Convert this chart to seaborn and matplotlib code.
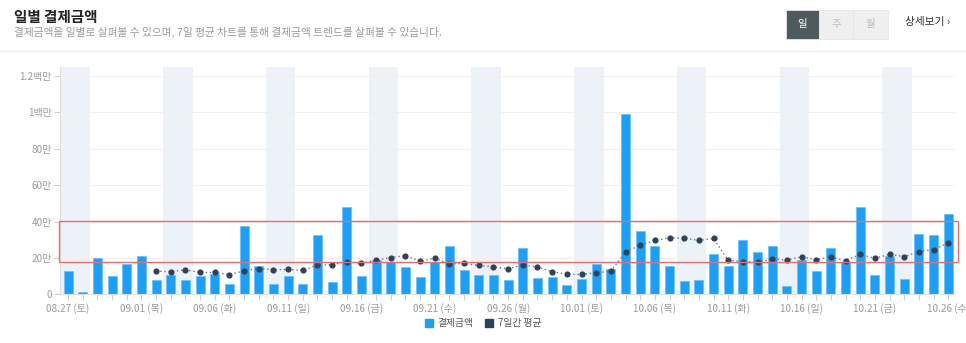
import matplotlib
matplotlib.use("Agg")
import matplotlib.pyplot as plt
from matplotlib.patches import Rectangle
from matplotlib.lines import Line2D
import seaborn as sns
import pandas as pd
import numpy as np

sns.set_theme(style="white")
plt.rcParams['font.family'] = ['Noto Sans CJK KR', 'DejaVu Sans']

# ---- data (values in 만원) ----
dates = pd.date_range("2022-08-27", periods=61)
amounts = [12.6, 1.1, 20.0, 10.2, 16.7, 21.1, 8.1, 10.6, 7.8, 10.0,
           11.1, 5.9, 37.4, 15.7, 5.6, 10.2, 5.6, 32.4, 7.0, 48.1,
           10.2, 18.7, 17.8, 15.2, 9.6, 17.8, 26.5, 13.5, 10.4, 10.7,
           8.1, 25.2, 8.9, 9.3, 5.0, 8.5, 16.9, 14.1, 98.9, 35.0,
           26.5, 15.6, 7.4, 7.8, 22.4, 15.6, 29.8, 23.5, 26.5, 4.6,
           18.7, 13.0, 25.2, 18.0, 47.8, 10.4, 21.1, 8.5, 33.1, 32.4,
           43.9]
avg7 = [None] * 6 + [12.8, 12.4, 13.5, 12.0, 12.0, 10.7, 13.0, 14.1, 13.5, 13.7,
                     13.1, 16.1, 16.3, 18.0, 17.0, 18.9, 20.2, 21.3, 18.1, 19.8,
                     16.7, 17.0, 15.9, 15.0, 14.1, 16.1, 15.0, 12.4, 11.1, 10.9,
                     11.9, 12.6, 23.3, 27.0, 29.6, 31.1, 30.9, 29.6, 30.7, 18.7,
                     18.0, 17.6, 19.3, 18.9, 20.6, 19.1, 20.4, 18.5, 22.0, 19.8,
                     22.0, 20.7, 23.5, 24.6, 28.1]
tick_labels = ["08.27 (토)", "09.01 (목)", "09.06 (화)", "09.11 (일)", "09.16 (금)",
               "09.21 (수)", "09.26 (월)", "10.01 (토)", "10.06 (목)", "10.11 (화)",
               "10.16 (일)", "10.21 (금)", "10.26 (수)"]
y_ticks = [0, 20, 40, 60, 80, 100, 120]
y_tick_labels = ["0", "20만", "40만", "60만", "80만", "1백만", "1.2백만"]
highlight_range = (18.0, 40.4)

series_names = ["결제금액", "7일간 평균"]
bar_color = "#1aa0f8"
avg_color = "#2e4358"

df = pd.DataFrame({"day": [d.strftime("%m.%d") for d in dates],
                   "amount": amounts,
                   "avg": pd.array(avg7, dtype="Float64")})
df["idx"] = np.arange(len(df))

W, H = 966, 343
fig = plt.figure(figsize=(W / 100, H / 100), dpi=100)
fig.patch.set_facecolor("white")
ax = fig.add_axes([60 / W, 1 - 294.3 / H, (955 - 60) / W, (294.3 - 67) / H])

# weekend shading
for i, d in enumerate(dates):
    if d.weekday() == 5:
        ax.axvspan(i - 0.5, i + 1.5, color="#edf2f8", zorder=0, lw=0)

sns.barplot(data=df, x="idx", y="amount", ax=ax, color=bar_color, width=0.62,
            saturation=1, edgecolor="#6cc3fb", linewidth=0.6, zorder=2)

sub = df.dropna(subset=["avg"])
sns.lineplot(x=sub["idx"].to_numpy(), y=sub["avg"].astype(float).to_numpy(), ax=ax,
             color="#62748a", linestyle=(0, (1, 2)), linewidth=1.0, zorder=3)
ax.scatter(sub["idx"], sub["avg"].astype(float), s=20, color=avg_color, zorder=4,
           linewidths=0)

ax.set_xlim(-0.55, 60.46)
ax.set_ylim(0, 125)
ax.set_yticks(y_ticks)
ax.set_yticklabels(y_tick_labels)
tick_pos = list(range(0, 61, 5))
ax.set_xticks(tick_pos)
ax.set_xticklabels(tick_labels)
ax.set_xticks(range(61), minor=True)
ax.tick_params(axis="x", which="both", length=4, color="#d0d0d0", width=0.8,
               labelsize=7.2, labelcolor="#9a9a9a", pad=2, bottom=True)
ax.tick_params(axis="y", length=4, color="#d0d0d0", width=0.8, labelsize=7.2,
               labelcolor="#9a9a9a", pad=2, left=True)
ax.set_xlabel("")
ax.set_ylabel("")
ax.grid(axis="y", color="#f0f0f0", linewidth=0.8, zorder=0)
ax.set_axisbelow(True)
for s in ["top", "right"]:
    ax.spines[s].set_visible(False)
ax.spines["left"].set_color("#e0e0e0")
ax.spines["bottom"].set_color("#e0e0e0")
ax.spines["left"].set_linewidth(0.8)
ax.spines["bottom"].set_linewidth(0.8)

# highlight rectangle
ax.add_patch(Rectangle((-0.59, highlight_range[0]), 61.26, highlight_range[1] - highlight_range[0],
                       fill=False, edgecolor="#f06a6a", linewidth=1.0, zorder=5, clip_on=False))

# header
fig.text(14 / W, 1 - 17 / H, "일별 결제금액", fontsize=10.5, fontweight="bold",
         color="#222222", va="center", ha="left")
fig.text(14 / W, 1 - 32.5 / H, "결제금액을 일별로 살펴볼 수 있으며, 7일 평균 차트를 통해 결제금액 트렌드를 살펴볼 수 있습니다.",
         fontsize=7.7, color="#9a9a9a", va="center", ha="left")
fig.add_artist(Line2D([0, 1], [1 - 51 / H, 1 - 51 / H], transform=fig.transFigure,
                      color="#eeeeee", linewidth=1))

# buttons
btns = [("일", 786, 819, "#4f5a5e", "white"), ("주", 819, 853, "#efefef", "#bdbdbd"),
        ("월", 853, 888, "#efefef", "#bdbdbd")]
for lab, x0, x1, fc, tc in btns:
    fig.add_artist(Rectangle((x0 / W, 1 - 39 / H), (x1 - x0) / W, 29 / H,
                             transform=fig.transFigure, facecolor=fc, edgecolor="#e6e6e6",
                             linewidth=0.6))
    fig.text((x0 + x1) / 2 / W, 1 - 24.5 / H, lab, fontsize=7.5, color=tc,
             ha="center", va="center")
fig.text(905 / W, 1 - 22 / H, "상세보기 ›", fontsize=7.7, color="#333333",
         ha="left", va="center")

# legend
handles = [Line2D([], [], marker="s", linestyle="", markersize=6, color=bar_color),
           Line2D([], [], marker="s", linestyle="", markersize=6, color=avg_color)]
fig.legend(handles, series_names, loc="center", bbox_to_anchor=(483 / W, 1 - 323 / H),
           ncol=2, frameon=False, fontsize=7, handlelength=0.8, handletextpad=0.5,
           columnspacing=1.2, labelcolor="#555555")

fig.savefig("out.png", dpi=100)
